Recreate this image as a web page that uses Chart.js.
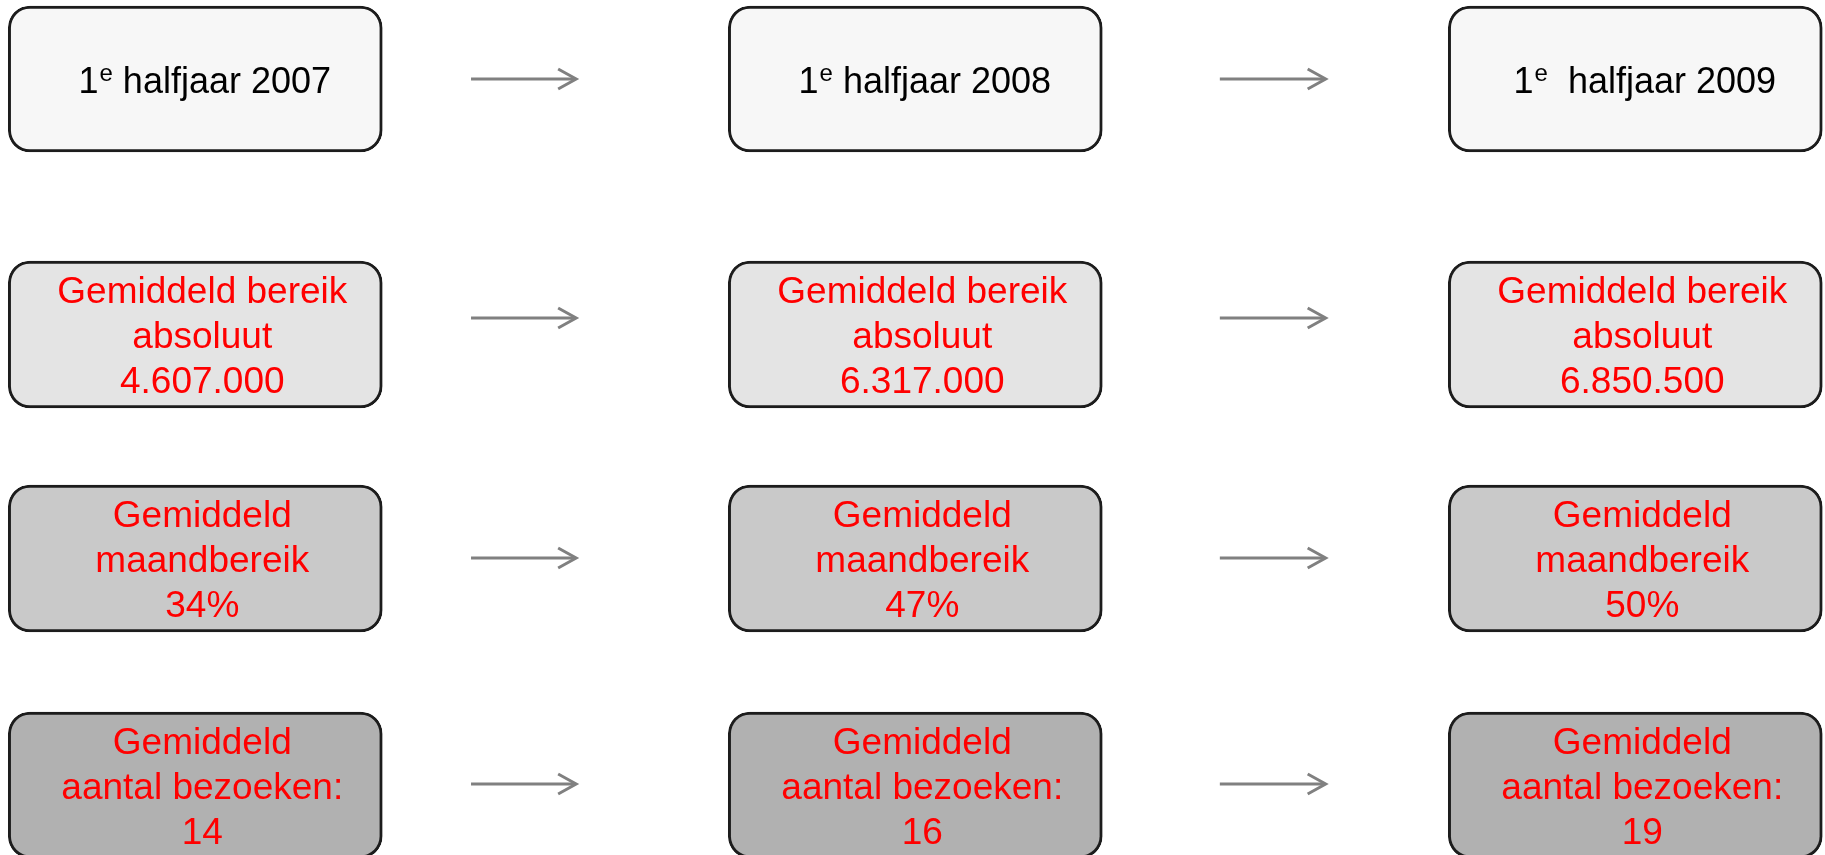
<!DOCTYPE html>
<html><head><meta charset="utf-8">
<script src="https://cdn.jsdelivr.net/npm/chart.js@4"></script>
<style>html,body{margin:0;padding:0;background:#fff;}#wrap{width:1825px;height:855px;position:relative;}</style>
</head><body><div id="wrap"><canvas id="c"></canvas></div>
<script>
// ---- data ----
const columns = [0, 1, 2];
const periodNumber = ['1', '1', '1'];
const periodSup = ['e', 'e', 'e'];
const periodLabels = [' halfjaar 2007', ' halfjaar 2008', '  halfjaar 2009'];
const metricTitles = [['Gemiddeld bereik', 'absoluut'], ['Gemiddeld', 'maandbereik'], ['Gemiddeld', 'aantal bezoeken:']];
const bereikAbsoluut = [4607000, 6317000, 6850500];
const maandbereikPct = [34, 47, 50];
const aantalBezoeken = [14, 16, 19];

// ---- layout (scale units) ----
const LAYOUT = {
  xMin: -0.2712, xMax: 2.2635,
  rowBands: [[6, 152], [261, 408], [485, 632], [712, 858]],
  arrowY: [79, 318, 558, 784],
  arrowSpans: [[0.383, 0.529], [1.423, 1.570]],
  fills: ['#f7f7f7', '#e4e4e4', '#c9c9c9', '#b1b1b1'],
  boxWidth: 374,
  font: '"Liberation Sans", Arial, sans-serif'
};

function fmtThousands(n) { return String(n).replace(/\B(?=(\d{3})+(?!\d))/g, '.'); }
const rowTexts = [
  null,
  columns.map(c => [...metricTitles[0], fmtThousands(bereikAbsoluut[c])]),
  columns.map(c => [...metricTitles[1], maandbereikPct[c] + '%']),
  columns.map(c => [...metricTitles[2], String(aantalBezoeken[c])])
];

const datasets = LAYOUT.rowBands.map((band, r) => ({
  data: columns.map(c => ({ x: c, y: band })),
  backgroundColor: LAYOUT.fills[r],
  borderColor: '#1c1c1c',
  borderWidth: 3,
  borderRadius: 22,
  borderSkipped: false,
  barThickness: LAYOUT.boxWidth,
  grouped: false
}));

const overlay = {
  id: 'overlay',
  afterDatasetsDraw(chart) {
    const ctx = chart.ctx;
    const xs = chart.scales.x, ys = chart.scales.y;
    ctx.save();
    // arrows
    ctx.strokeStyle = '#808080';
    ctx.lineWidth = 3;
    ctx.lineCap = 'butt';
    LAYOUT.arrowY.forEach(yv => {
      const y = ys.getPixelForValue(yv);
      LAYOUT.arrowSpans.forEach(sp => {
        const x1 = xs.getPixelForValue(sp[0]), x2 = xs.getPixelForValue(sp[1]);
        ctx.beginPath(); ctx.moveTo(x1, y); ctx.lineTo(x2 - 1, y); ctx.stroke();
        ctx.beginPath(); ctx.moveTo(x2 - 18, y - 10); ctx.lineTo(x2, y); ctx.lineTo(x2 - 18, y + 10); ctx.stroke();
      });
    });
    // texts
    chart.data.datasets.forEach((ds, r) => {
      const meta = chart.getDatasetMeta(r);
      meta.data.forEach((el, c) => {
        const cx = el.x;
        const cy = (el.y + el.base) / 2;
        ctx.textBaseline = 'alphabetic';
        if (r === 0) {
          const big = '36px ' + LAYOUT.font, small = '24px ' + LAYOUT.font;
          ctx.font = big; const w1 = ctx.measureText(periodNumber[c]).width;
          const w3 = ctx.measureText(periodLabels[c]).width;
          ctx.font = small; const w2 = ctx.measureText(periodSup[c]).width;
          let x = cx + 9 - (w1 + w2 + w3) / 2;
          const base = cy + 14;
          ctx.fillStyle = '#000';
          ctx.textAlign = 'left';
          ctx.font = big; ctx.fillText(periodNumber[c], x, base); x += w1 + 1;
          ctx.font = small; ctx.fillText(periodSup[c], x, base - 12); x += w2;
          ctx.font = big; ctx.fillText(periodLabels[c], x, base);
        } else {
          const lines = rowTexts[r][c];
          ctx.font = '37px ' + LAYOUT.font;
          ctx.fillStyle = '#ff0000';
          ctx.textAlign = 'center';
          const lh = 45;
          const start = cy + 13.5 - lh * (lines.length - 1) / 2;
          lines.forEach((t, i) => ctx.fillText(t, cx + 7, start + i * lh));
        }
      });
    });
    ctx.restore();
  }
};

new Chart(document.getElementById('c'), {
  type: 'bar',
  data: { datasets },
  options: {
    responsive: true,
    maintainAspectRatio: false,
    animation: false,
    devicePixelRatio: 1,
    layout: { padding: 0 },
    plugins: { legend: { display: false }, tooltip: { enabled: false }, title: { display: false } },
    scales: {
      x: { type: 'linear', min: LAYOUT.xMin, max: LAYOUT.xMax, display: false, offset: false },
      y: { type: 'linear', min: 0, max: 855, reverse: true, display: false }
    }
  },
  plugins: [overlay]
});
</script>
</body></html>
